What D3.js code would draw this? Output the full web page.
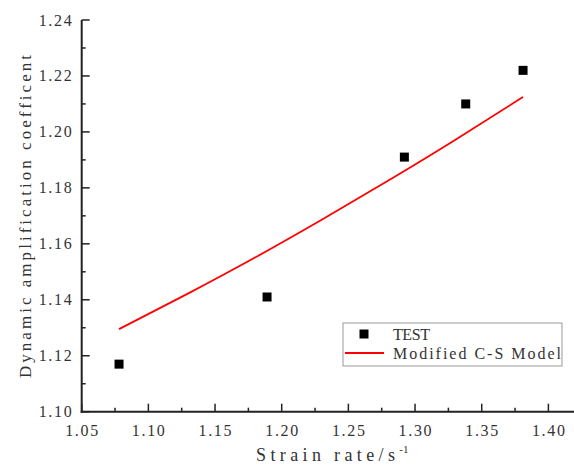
<!DOCTYPE html>
<html>
<head>
<meta charset="utf-8">
<script src="https://cdn.jsdelivr.net/npm/d3@7"></script>
<style>
  body { margin: 0; background: #fff; }
  text { font-family: "Liberation Serif", "DejaVu Serif", serif; fill: #333; }
</style>
</head>
<body>
<div class="drawingArea"></div>
<script>
// test points
var testX = [1.078, 1.189, 1.292, 1.338, 1.381];
var testY = [1.117, 1.141, 1.191, 1.210, 1.222];

// model curve
var modelX = [1.078, 1.13, 1.18, 1.23, 1.28, 1.33, 1.381];
var modelY = [1.1295, 1.1423, 1.1551, 1.1686, 1.1826, 1.1971, 1.2125];

var xTicks = [1.05, 1.10, 1.15, 1.20, 1.25, 1.30, 1.35, 1.40];
var yTicks = [1.10, 1.12, 1.14, 1.16, 1.18, 1.20, 1.22, 1.24];

var width = 574, height = 467;
var plotLeft = 81.7, plotTop = 20, plotBottom = 411.7;

var svg = d3.select(".drawingArea").append("svg")
    .attr("width", width)
    .attr("height", height);

var x = d3.scaleLinear().domain([1.05, 1.42]).range([plotLeft, plotLeft + 0.37 / 0.05 * 66.67]);
var y = d3.scaleLinear().domain([1.10, 1.24]).range([plotBottom, plotTop]);

var axisColor = "#222";

// x axis - ticks point inward (up)
var xAxis = svg.append("g").attr("transform", "translate(0," + plotBottom + ")");
xAxis.append("line")
    .attr("x1", plotLeft - 1).attr("x2", width)
    .attr("stroke", axisColor).attr("stroke-width", 2);
var xMinor = d3.range(1.075, 1.42, 0.05);
xAxis.selectAll(".minor").data(xMinor).enter().append("line")
    .attr("x1", d => x(d)).attr("x2", d => x(d))
    .attr("y1", 0).attr("y2", -4)
    .attr("stroke", axisColor).attr("stroke-width", 1.5);
xAxis.selectAll(".major").data(xTicks).enter().append("line")
    .attr("x1", d => x(d)).attr("x2", d => x(d))
    .attr("y1", 0).attr("y2", -8)
    .attr("stroke", axisColor).attr("stroke-width", 1.5);
xAxis.selectAll(".lbl").data(xTicks).enter().append("text")
    .attr("x", d => x(d))
    .attr("y", 24)
    .attr("text-anchor", "middle")
    .attr("textLength", 33)
    .attr("lengthAdjust", "spacing")
    .style("font-size", "16px")
    .text(d => d.toFixed(2));

// y axis - ticks inward (right)
var yAxis = svg.append("g").attr("transform", "translate(" + plotLeft + ",0)");
yAxis.append("line")
    .attr("y1", plotTop).attr("y2", plotBottom + 1)
    .attr("stroke", axisColor).attr("stroke-width", 2);
var yMinor = d3.range(1.11, 1.24, 0.02);
yAxis.selectAll(".minor").data(yMinor).enter().append("line")
    .attr("y1", d => y(d)).attr("y2", d => y(d))
    .attr("x1", 0).attr("x2", 4)
    .attr("stroke", axisColor).attr("stroke-width", 1.5);
yAxis.selectAll(".major").data(yTicks).enter().append("line")
    .attr("y1", d => y(d)).attr("y2", d => y(d))
    .attr("x1", 0).attr("x2", 8)
    .attr("stroke", axisColor).attr("stroke-width", 1.5);
yAxis.selectAll(".lbl").data(yTicks).enter().append("text")
    .attr("x", -43)
    .attr("y", d => y(d) + 5.5)
    .attr("textLength", 33)
    .attr("lengthAdjust", "spacing")
    .style("font-size", "16px")
    .text(d => d.toFixed(2));

// axis titles
svg.append("text")
    .attr("transform", "translate(31,378) rotate(-90)")
    .attr("textLength", 323)
    .attr("lengthAdjust", "spacing")
    .style("font-size", "17px")
    .text("Dynamic amplification coefficent");

var xt = svg.append("text")
    .attr("x", 256)
    .attr("y", 461)
    .style("font-size", "18px");
xt.append("tspan").attr("textLength", 139).attr("lengthAdjust", "spacing").text("Strain rate/s");
xt.append("tspan").attr("dy", -8).style("font-size", "11px").text("-1");

// model line
var line = d3.line()
    .x(d => x(d[0]))
    .y(d => y(d[1]))
    .curve(d3.curveNatural);
svg.append("path")
    .datum(d3.zip(modelX, modelY))
    .attr("d", line)
    .attr("fill", "none")
    .attr("stroke", "#f00")
    .attr("stroke-width", 1.8);

// test markers
var s = 9;
svg.selectAll(".pt").data(d3.zip(testX, testY)).enter().append("rect")
    .attr("x", d => x(d[0]) - s / 2)
    .attr("y", d => y(d[1]) - s / 2)
    .attr("width", s).attr("height", s)
    .attr("fill", "#000");

// legend
var lg = svg.append("g");
lg.append("rect")
    .attr("x", 343).attr("y", 323)
    .attr("width", 219).attr("height", 43)
    .attr("fill", "#fff")
    .attr("stroke", "#999").attr("stroke-width", 1);
lg.append("rect")
    .attr("x", 364 - 4.5).attr("y", 334 - 4.5)
    .attr("width", 9).attr("height", 9)
    .attr("fill", "#000");
lg.append("line")
    .attr("x1", 345).attr("x2", 384)
    .attr("y1", 353).attr("y2", 353)
    .attr("stroke", "#f00").attr("stroke-width", 1.8);
lg.append("text")
    .attr("x", 393).attr("y", 340)
    .attr("textLength", 37)
    .attr("lengthAdjust", "spacing")
    .style("font-size", "16px")
    .text("TEST");
lg.append("text")
    .attr("x", 393).attr("y", 359)
    .attr("textLength", 168)
    .attr("lengthAdjust", "spacing")
    .style("font-size", "16px")
    .text("Modified C-S Model");
</script>
</body>
</html>
